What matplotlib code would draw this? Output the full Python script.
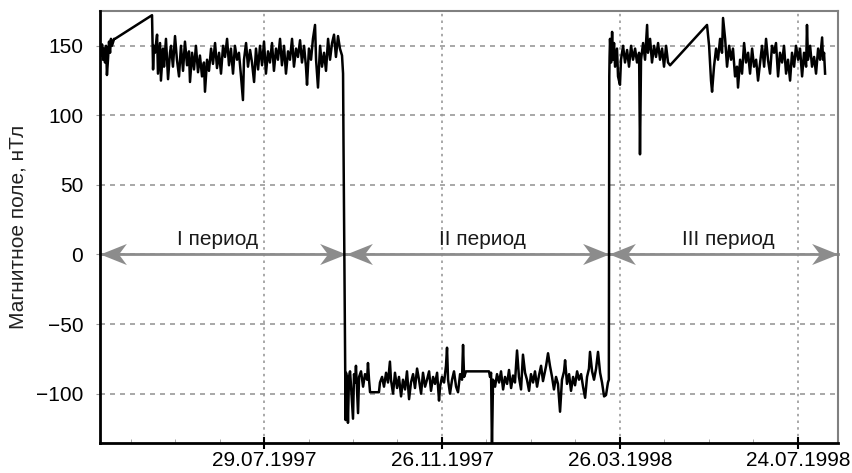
import numpy as np
import matplotlib.pyplot as plt
from matplotlib.path import Path

plt.rcParams['font.family'] = ['Liberation Sans', 'DejaVu Sans']

# days counted from 29.07.1997
days_1 = [-110.6, -109.9, -109.2, -108.6, -107.9, -107.2, -106.5, -105.9, -105.2, -104.5,
          -103.8, -103.2, -102.5, -101.1, -100.5, -75.5, -74.8, -74.2, -73.5, -72.1,
          -71.5, -70.1, -69.5, -68.1, -67.4, -66.1, -64.7, -63.4, -62.7, -61.4,
          -60.0, -58.7, -57.3, -56.0, -54.6, -53.3, -51.9, -50.6, -49.9, -48.5,
          -47.2, -45.9, -44.5, -43.2, -41.8, -40.5, -39.8, -38.4, -37.1, -35.7,
          -34.4, -33.0, -31.7, -30.3, -29.0, -27.6, -26.3, -24.9, -23.6, -22.3,
          -20.9, -19.6, -18.2, -16.9, -15.5, -14.2, -13.5, -12.1, -10.8, -9.4,
          -8.1, -6.7, -5.4, -4.0, -2.7, -1.3, 0.0, 1.3, 2.7, 4.0,
          5.4, 6.7, 8.1, 9.4, 10.8, 12.1, 13.5, 14.8, 16.2, 17.5,
          18.9, 20.2, 21.6, 22.9, 24.3, 25.6, 27.0, 28.3, 29.0, 30.3,
          31.7, 33.0, 34.4, 35.1, 36.4, 37.8, 39.1, 40.5, 41.8, 43.2,
          44.5, 45.9, 47.2, 48.5, 49.9, 51.2, 52.6, 53.3, 53.6, 54.3, 54.6]
field_1 = [150, 143, 151, 140, 148, 138, 150, 129, 140, 153,
           145, 155, 150, 155, 155, 172, 133, 150, 145, 158,
           130, 152, 125, 148, 135, 155, 126, 145, 150, 135,
           157, 140, 128, 150, 132, 153, 136, 146, 124, 145,
           133, 150, 131, 143, 128, 138, 117, 140, 132, 148,
           137, 152, 134, 145, 130, 150, 142, 155, 136, 148,
           130, 150, 140, 145, 128, 111, 140, 152, 135, 147,
           138, 124, 148, 133, 150, 136, 153, 130, 146, 138,
           152, 132, 148, 140, 155, 136, 150, 130, 146, 140,
           155, 135, 148, 142, 154, 138, 150, 135, 122, 148,
           140, 155, 165, 140, 120, 150, 135, 145, 132, 155,
           140, 152, 158, 142, 157, 148, 143, 130, 80, -20, -70]

days_2 = [55.0, 55.3, 56.0, 56.6, 57.3, 58.0, 58.7, 60.0, 60.7, 61.4,
          62.0, 63.4, 64.1, 65.4, 66.8, 68.1, 69.5, 70.1, 70.8, 71.5,
          77.5, 78.2, 79.6, 80.9, 82.3, 83.6, 84.9, 85.6, 87.0, 88.3,
          89.7, 91.0, 92.4, 93.7, 95.1, 96.4, 97.8, 99.1, 100.5, 101.8,
          103.2, 104.5, 105.9, 107.2, 108.6, 109.9, 111.3, 112.6, 114.0, 115.3,
          116.7, 118.0, 118.7, 120.0, 121.4, 122.7, 123.4, 124.1, 125.4, 126.8,
          128.1, 129.5, 130.8, 132.2, 133.5, 134.2, 134.9, 136.2, 142.3, 151.7,
          152.4, 153.1, 153.7, 154.4, 155.8, 157.1, 158.5, 159.8, 161.2, 162.5,
          163.9, 165.2, 166.6, 167.9, 169.2, 170.6, 171.9, 173.3, 174.6, 176.0,
          177.3, 178.7, 180.0, 181.4, 182.7, 184.1, 185.4, 186.8, 188.1, 190.2,
          191.5, 192.8, 194.2, 195.5, 196.9, 198.2, 199.6, 200.9, 202.3, 203.0,
          204.3, 205.7, 207.0, 208.4, 209.7, 211.1, 212.4, 213.8, 215.1, 216.5,
          217.8, 219.1, 219.8, 221.2, 222.5, 223.9, 225.2, 226.6, 227.9, 229.3,
          230.6, 231.9, 232.5]
field_2 = [-119, -85, -90, -121, -88, -84, -95, -118, -86, -92,
           -80, -114, -88, -84, -95, -86, -90, -78, -90, -99,
           -99, -92, -88, -95, -85, -92, -77, -90, -100, -85,
           -96, -88, -102, -90, -97, -84, -104, -92, -86, -96,
           -82, -90, -100, -85, -95, -90, -84, -98, -88, -93,
           -85, -105, -95, -88, -92, -80, -67, -90, -100, -90,
           -84, -95, -99, -86, -90, -65, -88, -84, -84, -84,
           -88, -85, -140, -90, -95, -86, -92, -84, -97, -88,
           -93, -83, -96, -87, -92, -69, -88, -97, -72, -85,
           -90, -98, -86, -92, -84, -95, -87, -80, -91, -80,
           -71, -80, -88, -97, -88, -93, -113, -90, -84, -76,
           -93, -86, -98, -88, -94, -84, -90, -86, -95, -103,
           -88, -82, -70, -84, -90, -82, -70, -85, -92, -102,
           -101, -92, -90]

days_3 = [232.8, 233.0, 233.3, 234.0, 234.7, 235.3, 236.0, 236.7, 238.0, 238.7,
          240.0, 240.7, 242.1, 243.4, 244.8, 246.1, 247.5, 248.8, 250.2, 251.5,
          252.9, 253.5, 254.2, 255.6, 256.9, 258.3, 258.9, 260.3, 261.6, 263.0,
          264.3, 265.7, 267.0, 268.4, 269.7, 271.1, 272.4, 273.8, 298.7, 300.1,
          301.4, 302.1, 303.4, 304.8, 306.1, 307.5, 308.8, 309.5, 310.9, 312.2,
          313.6, 314.9, 316.2, 317.6, 318.9, 319.6, 321.0, 322.3, 323.7, 325.0,
          326.4, 327.7, 329.1, 330.4, 331.8, 333.1, 334.5, 335.8, 337.2, 338.5,
          339.8, 341.2, 342.5, 343.9, 345.2, 346.6, 347.9, 349.3, 350.6, 352.0,
          353.3, 354.7, 356.0, 357.4, 358.7, 360.1, 361.4, 362.8, 364.1, 365.5,
          366.1, 366.8, 368.2, 369.5, 370.9, 372.2, 373.6, 374.9, 376.3, 376.9,
          377.6, 378.3]
field_3 = [128, 142, 155, 138, 160, 140, 152, 135, 148, 128,
           122, 140, 150, 138, 147, 135, 150, 140, 148, 138,
           145, 72, 140, 152, 140, 165, 145, 155, 138, 150,
           142, 152, 140, 148, 135, 150, 138, 136, 165, 150,
           125, 117, 135, 148, 140, 155, 145, 170, 155, 135,
           150, 140, 148, 128, 135, 120, 140, 130, 152, 138,
           145, 130, 148, 135, 140, 125, 138, 150, 135, 155,
           140, 130, 150, 145, 152, 128, 145, 138, 150, 130,
           140, 125, 145, 135, 150, 140, 148, 128, 145, 135,
           165, 140, 150, 135, 142, 130, 148, 140, 156, 140,
           145, 130]

tick_days = [0, 120, 240, 360]
tick_labels = ['29.07.1997', '26.11.1997', '26.03.1998', '24.07.1998']
period_edges = [-110.6, 55.0, 232.7, 387.0]
period_names = ['I период', 'II период', 'III период']
period_label_x = [-31, 147, 313]

days = np.array(days_1 + days_2 + days_3)
field = np.array(field_1 + field_2 + field_3)

# notched arrow head, tip at the origin, pointing right
head_right = Path([(0, 0), (-1, 0.4), (-0.7, 0), (-1, -0.4), (0, 0)],
                  [Path.MOVETO, Path.LINETO, Path.LINETO, Path.LINETO, Path.CLOSEPOLY])
head_left = Path([(0, 0), (1, 0.4), (0.7, 0), (1, -0.4), (0, 0)],
                 [Path.MOVETO, Path.LINETO, Path.LINETO, Path.LINETO, Path.CLOSEPOLY])

fig = plt.figure(figsize=(8.53, 4.73), dpi=100)
ax = fig.add_axes([0.1172, 0.0634, 0.8652, 0.9133])

ax.set_xlim(-110.6, 387)
ax.set_ylim(-135.5, 175)

ax.set_yticks([-100, -50, 0, 50, 100, 150])
ax.set_xticks(tick_days)
ax.set_xticklabels(tick_labels)
ax.set_xticks(np.arange(-90, 387, 30), minor=True)

ax.grid(axis='y', color='#9a9a9a', linestyle=(0, (3, 3)), linewidth=1.2)
ax.grid(axis='x', which='major', color='#9a9a9a', linestyle=(0, (1.5, 2.5)), linewidth=1.2)

ax.plot(days, field, color='black', linewidth=1.8, zorder=3)

arrow_color = '#8c8c8c'
for i in range(3):
    x0, x1 = period_edges[i], period_edges[i + 1]
    ax.plot([x0, x1], [0, 0], color=arrow_color, linewidth=2, zorder=2, clip_on=False)
    ax.plot([x0], [0], marker=head_left, markersize=38, color=arrow_color,
            markeredgewidth=0, zorder=2, clip_on=False)
    ax.plot([x1], [0], marker=head_right, markersize=38, color=arrow_color,
            markeredgewidth=0, zorder=2, clip_on=False)
    ax.text(period_label_x[i], 4, period_names[i], ha='center', va='bottom',
            fontsize=15, color='#1a1a1a')

for side in ['left', 'bottom']:
    ax.spines[side].set_color('black')
    ax.spines[side].set_linewidth(2)
for side in ['top', 'right']:
    ax.spines[side].set_color('#808080')
    ax.spines[side].set_linewidth(1.5)
ax.spines['left'].set_zorder(4)

ax.tick_params(axis='y', length=3, color='#9a9a9a', labelsize=15, pad=9)
ax.tick_params(axis='x', which='major', direction='inout', length=8, width=1.5,
               color='black', labelsize=15, pad=2)
ax.tick_params(axis='x', which='minor', direction='in', length=3, color='#9a9a9a')

ax.set_ylabel('Магнитное поле, нТл', fontsize=15, color='#222222', labelpad=6)

fig.savefig('out.png', dpi=100)
